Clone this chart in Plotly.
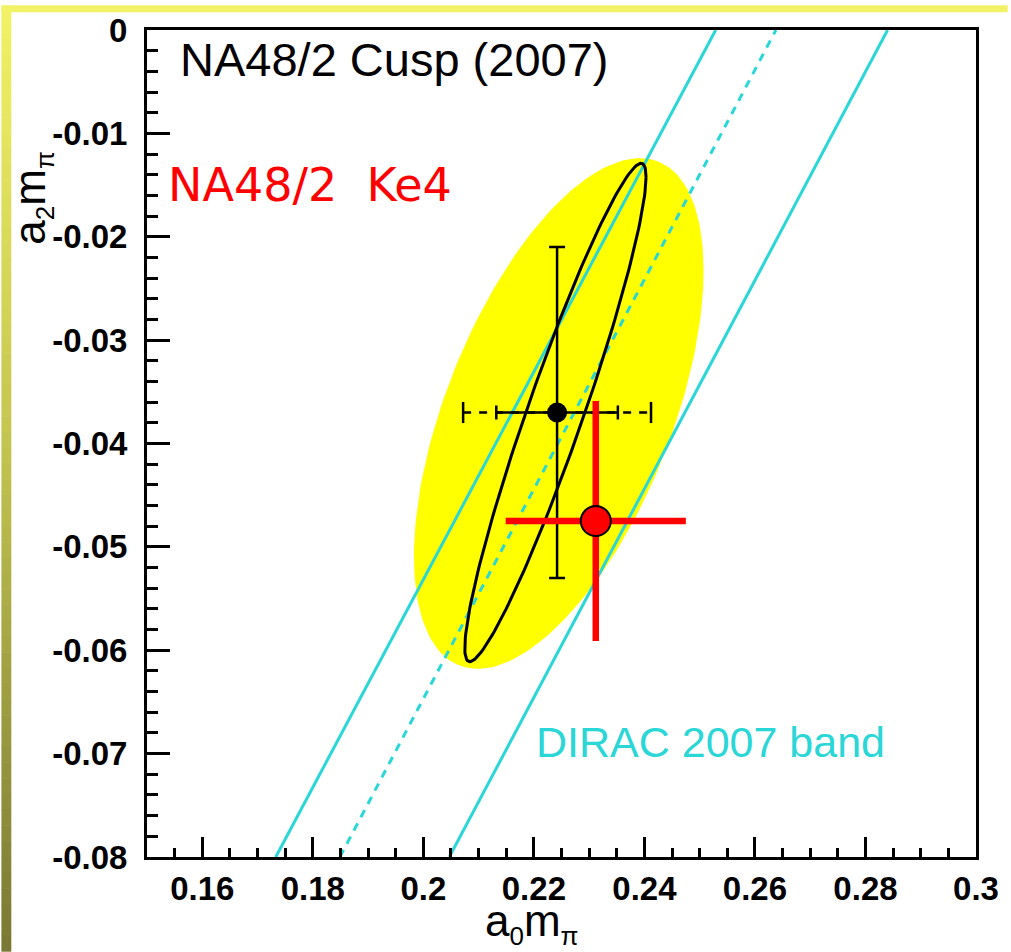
import numpy as np
import plotly.graph_objects as go

# ---------------- data ----------------
x_tickvals = [0.16, 0.18, 0.20, 0.22, 0.24, 0.26, 0.28, 0.30]
x_ticktext = ["0.16", "0.18", "0.2", "0.22", "0.24", "0.26", "0.28", "0.3"]
y_tickvals = [0.0, -0.01, -0.02, -0.03, -0.04, -0.05, -0.06, -0.07, -0.08]
y_ticktext = ["0", "-0.01", "-0.02", "-0.03", "-0.04", "-0.05", "-0.06", "-0.07", "-0.08"]

# DIRAC 2007 band (a0 at the a2 ends of the frame)
band_a2 = [-0.08, 0.0]
band_left_a0 = [0.1733, 0.2529]
band_center_a0 = [0.1849, 0.2638]
band_right_a0 = [0.2047, 0.2840]

# NA48/2 cusp (2007)
cusp_a0 = 0.2242
cusp_a2 = -0.0370
cusp_a0_err_stat = 0.0110
cusp_a0_err_tot = 0.0170
cusp_a2_err = 0.0160

# cusp contours: centre, half-extents, correlation
yellow_center = [0.2245, -0.0371]
yellow_sigma = [0.0262, 0.0247]
yellow_rho = 0.56
black_center = [0.2239, -0.0370]
black_sigma = [0.0164, 0.0241]
black_rho = 0.945

# NA48/2 Ke4
ke4_a0 = 0.2312
ke4_a2 = -0.0475
ke4_a0_err = 0.0163
ke4_a2_err = 0.0116

# ---------------- geometry helpers ----------------
W, H = 1011, 952
L, R, T, B = 147, 984, 23, 857


def px(xp):
    return (xp - L) / (R - L)


def py(yp):
    return (B - yp) / (B - T)


def contour(center, sigma, rho, n=200):
    t = np.linspace(0, 2 * np.pi, n)
    d = np.arccos(rho)
    return center[0] + sigma[0] * np.cos(t), center[1] + sigma[1] * np.cos(t - d)


CYAN = "#2ad6d6"
fig = go.Figure()

yx, yy = contour(yellow_center, yellow_sigma, yellow_rho)
fig.add_trace(go.Scatter(x=yx, y=yy, mode="lines", fill="toself",
                         fillcolor="#ffff00", line=dict(width=0, color="#ffff00"),
                         hoverinfo="skip", showlegend=False))

for a0s, dash in [(band_left_a0, "solid"), (band_center_a0, "8px,7px"), (band_right_a0, "solid")]:
    fig.add_trace(go.Scatter(x=a0s, y=band_a2, mode="lines",
                             line=dict(color=CYAN, width=3, dash=dash),
                             showlegend=False))

bx, by = contour(black_center, black_sigma, black_rho)
fig.add_trace(go.Scatter(x=bx, y=by, mode="lines", line=dict(color="black", width=3),
                         showlegend=False))

# total (dashed) horizontal error of cusp
fig.add_trace(go.Scatter(x=[cusp_a0 - cusp_a0_err_tot, cusp_a0 + cusp_a0_err_tot],
                         y=[cusp_a2, cusp_a2], mode="lines+markers",
                         line=dict(color="black", width=2.5, dash="8px,8px"),
                         marker=dict(symbol="line-ns-open", size=15,
                                     line=dict(color="black", width=2.5)),
                         showlegend=False))
# stat errors
fig.add_trace(go.Scatter(x=[cusp_a0], y=[cusp_a2], mode="markers",
                         marker=dict(color="black", size=20),
                         error_x=dict(type="constant", value=cusp_a0_err_stat,
                                      color="black", thickness=2.5, width=7),
                         error_y=dict(type="constant", value=cusp_a2_err,
                                      color="black", thickness=2.5, width=8),
                         showlegend=False))

# Ke4 point
fig.add_trace(go.Scatter(x=[ke4_a0], y=[ke4_a2], mode="markers",
                         marker=dict(color="#ff0000", size=30,
                                     line=dict(color="black", width=2)),
                         error_x=dict(type="constant", value=ke4_a0_err,
                                      color="#ff0000", thickness=6.5, width=0),
                         error_y=dict(type="constant", value=ke4_a2_err,
                                      color="#ff0000", thickness=6.5, width=0),
                         showlegend=False))

# ---------------- background strips ----------------
shapes = []
stops = [(0.0, (242, 242, 102)), (0.46, (196, 196, 80)), (1.0, (120, 120, 52))]


def col(f):
    for (f0, c0), (f1, c1) in zip(stops[:-1], stops[1:]):
        if f <= f1:
            u = (f - f0) / (f1 - f0)
            return "rgb(%d,%d,%d)" % tuple(round(a + (b - a) * u) for a, b in zip(c0, c1))
    return "rgb(%d,%d,%d)" % stops[-1][1]


nb = 60
for i in range(nb):
    y0 = H * i / nb
    y1 = H * (i + 1) / nb + 0.5
    shapes.append(dict(type="rect", xref="paper", yref="paper",
                       x0=px(0), x1=px(10), y0=py(y0), y1=py(y1),
                       fillcolor=col((i + 0.5) / nb), line=dict(width=0), layer="above"))
shapes.append(dict(type="rect", xref="paper", yref="paper",
                   x0=px(0), x1=px(W + 5), y0=py(-2), y1=py(5),
                   fillcolor="rgb(242,242,102)", line=dict(width=0), layer="above"))

SUB = '<sub><span style="font-size:26px">%s</span></sub>'
annotations = [
    dict(text="NA48/2 Cusp (2007)", x=px(178), y=py(53), xref="paper", yref="paper",
         xanchor="left", yanchor="middle", showarrow=False,
         font=dict(family="Liberation Sans", size=47, color="black")),
    dict(text="NA48/2\u00a0 Ke4", x=px(166), y=py(179), xref="paper", yref="paper",
         xanchor="left", yanchor="middle", showarrow=False,
         font=dict(family="DejaVu Sans", size=46, color="#ff0000")),
    dict(text="DIRAC 2007 band", x=px(538), y=py(741), xref="paper", yref="paper",
         xanchor="left", yanchor="middle", showarrow=False,
         font=dict(family="Liberation Sans", size=43, color=CYAN)),
    dict(text="a" + SUB % "0" + "m" + SUB % "π", x=px(536), y=py(924), xref="paper", yref="paper",
         xanchor="center", yanchor="middle", showarrow=False,
         font=dict(family="Liberation Sans", size=44, color="black")),
    dict(text="a" + SUB % "2" + "m" + SUB % "π", x=px(31), y=py(192), xref="paper", yref="paper",
         xanchor="center", yanchor="middle", showarrow=False, textangle=-90,
         font=dict(family="Liberation Sans", size=44, color="black")),
]

axis_font = dict(family="Liberation Sans", size=33, color="black", weight="bold")

fig.update_layout(
    width=W, height=H, autosize=False,
    margin=dict(l=L, r=W - R, t=T, b=H - B, pad=0),
    paper_bgcolor="white", plot_bgcolor="white",
    showlegend=False,
    shapes=shapes, annotations=annotations,
    xaxis=dict(range=[0.15, 0.30], tickvals=x_tickvals, ticktext=x_ticktext,
               ticks="inside", ticklen=20, tickwidth=2.5, tickcolor="black",
               showline=True, linecolor="black", linewidth=3, mirror=True,
               showgrid=False, zeroline=False, tickfont=axis_font,
               ticklabelstandoff=0,
               minor=dict(tick0=0.15, dtick=0.005, ticks="inside", ticklen=9,
                          tickwidth=2.5, tickcolor="black", showgrid=False)),
    yaxis=dict(range=[-0.08, 0.0], tickvals=y_tickvals, ticktext=y_ticktext,
               ticks="inside", ticklen=23, tickwidth=2.5, tickcolor="black",
               showline=True, linecolor="black", linewidth=3, mirror=True,
               showgrid=False, zeroline=False, tickfont=axis_font,
               ticklabelstandoff=10,
               minor=dict(tick0=0.0, dtick=0.002, ticks="inside", ticklen=11,
                          tickwidth=2.5, tickcolor="black", showgrid=False)),
)

fig.write_html("out.html")
